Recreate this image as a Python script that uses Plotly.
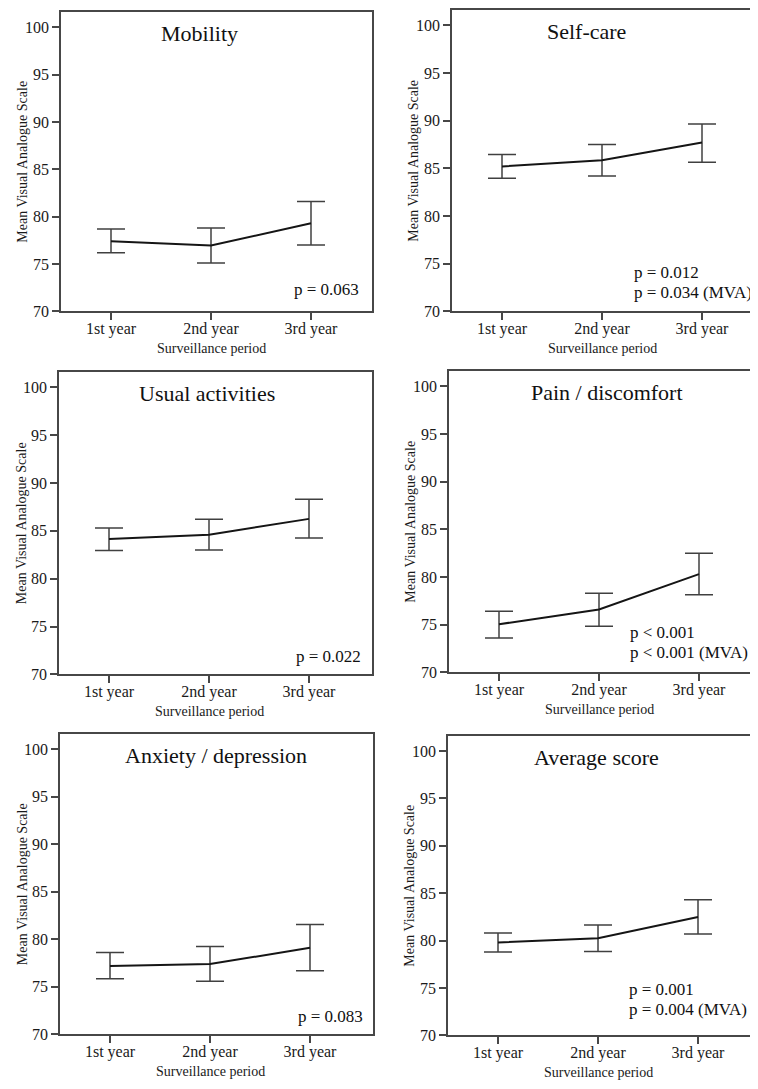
import plotly.graph_objects as go

# ---------------- data ----------------
categories = ["1st year", "2nd year", "3rd year"]
panel_titles = ["Mobility", "Self-care", "Usual activities",
                "Pain / discomfort", "Anxiety / depression", "Average score"]

mobility_mean = [77.4, 76.95, 79.3]
mobility_upper = [78.7, 78.8, 81.6]
mobility_lower = [76.2, 75.1, 77.0]

selfcare_mean = [85.2, 85.85, 87.7]
selfcare_upper = [86.45, 87.5, 89.65]
selfcare_lower = [83.95, 84.2, 85.65]

usual_mean = [84.15, 84.6, 86.25]
usual_upper = [85.3, 86.2, 88.3]
usual_lower = [82.95, 83.0, 84.25]

pain_mean = [75.05, 76.6, 80.3]
pain_upper = [76.4, 78.3, 82.5]
pain_lower = [73.6, 74.85, 78.15]

anxiety_mean = [77.2, 77.4, 79.1]
anxiety_upper = [78.6, 79.25, 81.55]
anxiety_lower = [75.85, 75.6, 76.7]

average_mean = [79.8, 80.25, 82.5]
average_upper = [80.8, 81.65, 84.3]
average_lower = [78.8, 78.85, 80.7]

p_texts = [["p = 0.063"],
           ["p = 0.012", "p = 0.034 (MVA)"],
           ["p = 0.022"],
           ["p < 0.001", "p < 0.001 (MVA)"],
           ["p = 0.083"],
           ["p = 0.001", "p = 0.004 (MVA)"]]

y_ticks = [70, 75, 80, 85, 90, 95, 100]
y_title = "Mean Visual Analogue Scale"
x_title = "Surveillance period"

means = [mobility_mean, selfcare_mean, usual_mean, pain_mean, anxiety_mean, average_mean]
uppers = [mobility_upper, selfcare_upper, usual_upper, pain_upper, anxiety_upper, average_upper]
lowers = [mobility_lower, selfcare_lower, usual_lower, pain_lower, anxiety_lower, average_lower]

# ---------------- layout geometry (page pixels) ----------------
PAGE_W, PAGE_H = 758, 1089
OFF = 8                      # default body margin of the html page
W, H = PAGE_W - OFF, PAGE_H - OFF
# left, right, top, bottom of each plot box (page pixels)
boxes = [(61, 372, 12, 314), (452, 758, 10, 314),
         (59, 372, 375, 680), (449, 758, 374, 678),
         (60, 373, 740, 1043), (448, 758, 742, 1044)]
title_x = [0.88, 0.84, 0.98, 1.08, 1.06, 0.98]
# p-text placement: (anchor, x, [y per line])
p_place = [("right", 2.50, [72.3]),
           ("left", 1.30, [74.1, 72.0]),
           ("right", 2.54, [71.9]),
           ("left", 1.29, [74.2, 72.1]),
           ("right", 2.55, [71.85]),
           ("left", 1.29, [74.8, 72.7])]

FONT = "Liberation Serif, Times New Roman, serif"
AXC = "#474747"
YMIN, YMAX = 70, 101.6


def px(x):
    return min(max((x - OFF) / W, 0.0), 1.0)


def py(y):
    return min(max(1 - (y - OFF) / H, 0.0), 1.0)


fig = go.Figure()
layout = {}
annotations = []
xs = list(range(len(categories)))

for i in range(6):
    L, R, T, B = boxes[i]
    n = "" if i == 0 else str(i + 1)
    right_col = (i % 2 == 1)
    mean = means[i]
    up = [u - m for u, m in zip(uppers[i], mean)]
    lo = [m - l for m, l in zip(mean, lowers[i])]
    fig.add_trace(go.Scatter(
        x=xs, y=mean, mode="lines",
        line=dict(color="#151515", width=2),
        error_y=dict(type="data", symmetric=False, array=up, arrayminus=lo,
                     color="#404040", thickness=1.5, width=14),
        xaxis="x" + n, yaxis="y" + n, showlegend=False, hoverinfo="skip"))

    xmax = -0.5 + (R - L) / 100.0
    layout["xaxis" + n] = dict(
        domain=[px(L), px(R)], range=[-0.5, xmax],
        tickvals=xs, ticktext=categories, ticks="outside", ticklen=7,
        tickwidth=1.5, tickcolor=AXC, showline=True, linecolor=AXC,
        linewidth=1.5, mirror=True, showgrid=False, zeroline=False,
        ticklabelstandoff=-5,
        tickfont=dict(family=FONT, size=16, color="#1a1a1a"),
        anchor="y" + n, fixedrange=True)
    layout["yaxis" + n] = dict(
        domain=[py(B), py(T)], range=[YMIN, YMAX], tickvals=y_ticks,
        ticks="outside", ticklen=7, tickwidth=1.5, tickcolor=AXC,
        showline=True, linecolor=AXC, linewidth=1.5,
        mirror=(not right_col), showgrid=False, zeroline=False,
        tickfont=dict(family=FONT, size=16, color="#1a1a1a"),
        anchor="x" + n, fixedrange=True)

    # panel title
    annotations.append(dict(
        x=title_x[i], y=99.35, xref="x" + n, yref="y" + n,
        text=panel_titles[i], showarrow=False, xanchor="center",
        yanchor="middle", font=dict(family=FONT, size=22, color="#111111")))
    # p values
    anc, xp, ylist = p_place[i]
    for txt, yp in zip(p_texts[i], ylist):
        annotations.append(dict(
            x=xp, y=yp, xref="x" + n, yref="y" + n, text=txt,
            showarrow=False, xanchor=anc, yanchor="middle",
            font=dict(family=FONT, size=17, color="#111111")))
    # axis titles
    annotations.append(dict(
        x=px(L - 38), y=py((T + B) / 2), xref="paper", yref="paper",
        text=y_title, textangle=-90, showarrow=False,
        xanchor="center", yanchor="middle",
        font=dict(family=FONT, size=14, color="#1a1a1a")))
    annotations.append(dict(
        x=1, y=py(B + 37), xref="x" + n, yref="paper",
        text=x_title, showarrow=False, xanchor="center", yanchor="middle",
        font=dict(family=FONT, size=14, color="#1a1a1a")))

fig.update_layout(
    width=W, height=H, margin=dict(l=0, r=0, t=0, b=0),
    paper_bgcolor="white", plot_bgcolor="white",
    showlegend=False, annotations=annotations, **layout)

fig.write_html("out.html")
